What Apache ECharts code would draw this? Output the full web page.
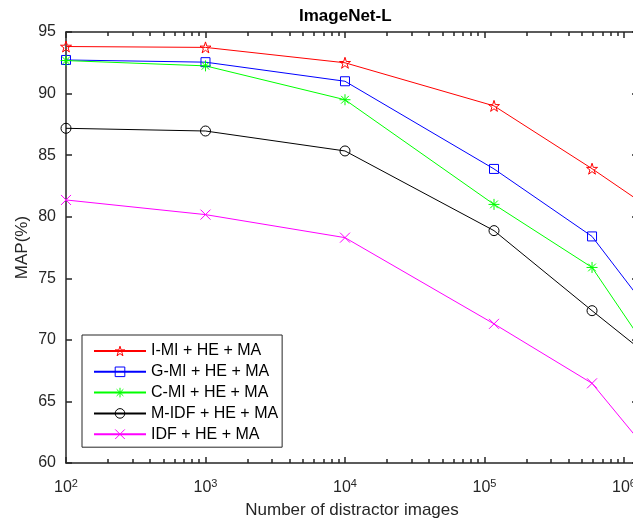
<!DOCTYPE html>
<html><head><meta charset="utf-8">
<script src="https://cdn.jsdelivr.net/npm/echarts@6/dist/echarts.min.js"></script>
<style>html,body{margin:0;padding:0;background:#fff}#c{width:633px;height:524px}</style>
</head><body><div id="c"></div>
<script>
// ---- data ----
const xValues = [100, 1000, 10000, 117000, 590000, 1500000];
const seriesNames = ['I-MI + HE + MA', 'G-MI + HE + MA', 'C-MI + HE + MA', 'M-IDF + HE + MA', 'IDF + HE + MA'];
const iMI   = [93.82, 93.75, 92.5, 89.0, 83.9, 80.76];
const gMI   = [92.73, 92.55, 91.0, 83.88, 78.4, 72.4];
const cMI   = [92.68, 92.25, 89.5, 81.0, 75.88, 69.1];
const mIDF  = [87.18, 86.96, 85.34, 78.87, 72.37, 68.7];
const idf   = [81.36, 80.17, 78.3, 71.3, 66.47, 60.9];
const xMajorTicks = [100, 1000, 10000, 100000, 1000000];
const yTicks = [60, 65, 70, 75, 80, 85, 90, 95];
const xMin = 100, xMax = 1.26e6;

// ---- styles ----
const FONT = '"Liberation Sans", Arial, sans-serif';
const AX = '#262626';
const xMinorTicks = [];
for (let d = 100; d < 1e6; d *= 10) for (let k = 2; k <= 9; k++) xMinorTicks.push(d * k);

function starPath() {
  const R = 10, r = 3.82; let p = '';
  for (let i = 0; i < 10; i++) {
    const a = -Math.PI / 2 + i * Math.PI / 5, rr = i % 2 ? r : R;
    p += (i ? 'L' : 'M') + (10 + rr * Math.cos(a)).toFixed(3) + ' ' + (10 + rr * Math.sin(a)).toFixed(3) + ' ';
  }
  return 'path://' + p + 'Z';
}
const symbols = [
  {symbol: starPath(), size: 11, color: '#ff0000'},
  {symbol: 'rect', size: 9, color: '#0000ff'},
  {symbol: 'path://M0 5 L10 5 M5 0 L5 10 M1.5 1.5 L8.5 8.5 M1.5 8.5 L8.5 1.5', size: 11, color: '#00ff00'},
  {symbol: 'circle', size: 10, color: '#000000'},
  {symbol: 'path://M0 0 L10 10 M0 10 L10 0', size: 10, color: '#ff00ff'}
];
const allVals = [iMI, gMI, cMI, mIDF, idf];

const series = allVals.map((vals, s) => ({
  type: 'line', name: seriesNames[s], xAxisIndex: 0, yAxisIndex: 0,
  data: xValues.map((x, i) => [x, vals[i]]),
  symbol: symbols[s].symbol, symbolSize: symbols[s].size,
  lineStyle: {color: symbols[s].color, width: 1},
  itemStyle: {color: 'transparent', borderColor: symbols[s].color, borderWidth: 1},
  clip: true, animation: false, emphasis: {disabled: true}
}));

const xCommon = {type: 'log', logBase: 10, min: xMin, max: xMax, gridIndex: 0, splitLine: {show: false}};
const tickLine = {color: AX, width: 1.5};

const option = {
  animation: false,
  backgroundColor: '#fff',
  title: {text: 'ImageNet-L', left: 299, top: 8, padding: 0,
    textStyle: {fontSize: 17, fontWeight: 'bold', color: '#000', fontFamily: FONT}},
  grid: {left: 66, top: 32, right: -5, bottom: 61, containLabel: false, outerBoundsMode: 'none'},
  legend: {
    data: seriesNames, orient: 'vertical', left: 82, top: 335,
    itemWidth: 52, itemHeight: 12, itemGap: 4.8, padding: [8, 4, 5, 11],
    borderColor: AX, borderWidth: 1, backgroundColor: '#fff',
    lineStyle: {width: 2},
    itemStyle: {color: 'transparent', borderWidth: 1},
    textStyle: {fontSize: 16, lineHeight: 16, color: '#000', fontFamily: FONT}
  },
  xAxis: [
    Object.assign({}, xCommon, {position: 'bottom',
      axisLine: {show: true, onZero: false, lineStyle: tickLine},
      axisTick: {show: true, inside: true, length: 6, customValues: xMajorTicks, lineStyle: tickLine},
      axisLabel: {show: true, customValues: xMajorTicks, margin: 15, color: AX,
        formatter: v => '{b|10}{s|' + Math.round(Math.log10(v)) + '}',
        rich: {b: {fontSize: 16, fontFamily: FONT, color: AX},
               s: {fontSize: 11, fontFamily: FONT, color: AX, padding: [0, 0, 9, 0]}}},
      name: 'Number of distractor images', nameLocation: 'middle', nameGap: 39,
      nameTextStyle: {fontSize: 17, color: AX, fontFamily: FONT}}),
    Object.assign({}, xCommon, {position: 'bottom',
      axisLine: {show: false, onZero: false},
      axisTick: {show: true, inside: true, length: 4, customValues: xMinorTicks, lineStyle: tickLine},
      axisLabel: {show: false}}),
    Object.assign({}, xCommon, {position: 'top',
      axisLine: {show: true, onZero: false, lineStyle: tickLine},
      axisTick: {show: true, inside: true, length: 6, customValues: xMajorTicks, lineStyle: tickLine},
      axisLabel: {show: false}}),
    Object.assign({}, xCommon, {position: 'top',
      axisLine: {show: false, onZero: false},
      axisTick: {show: true, inside: true, length: 4, customValues: xMinorTicks, lineStyle: tickLine},
      axisLabel: {show: false}})
  ],
  yAxis: [
    {type: 'value', position: 'left', min: yTicks[0], max: yTicks[yTicks.length - 1], interval: 5,
      axisLine: {show: true, onZero: false, lineStyle: tickLine},
      axisTick: {show: true, inside: true, length: 6, lineStyle: tickLine},
      axisLabel: {show: true, margin: 10, fontSize: 16, color: AX, fontFamily: FONT},
      splitLine: {show: false},
      name: 'MAP(%)', nameLocation: 'middle', nameGap: 35, nameRotate: 90, nameMoveOverlap: false,
      nameTextStyle: {fontSize: 17, color: AX, fontFamily: FONT}},
    {type: 'value', position: 'right', min: yTicks[0], max: yTicks[yTicks.length - 1], interval: 5,
      axisLine: {show: true, onZero: false, lineStyle: tickLine},
      axisTick: {show: true, inside: true, length: 6, lineStyle: tickLine},
      axisLabel: {show: false}, splitLine: {show: false}}
  ],
  series: series
};
const chart = echarts.init(document.getElementById('c'), null, {renderer: 'canvas'});
chart.setOption(option);
</script></body></html>
